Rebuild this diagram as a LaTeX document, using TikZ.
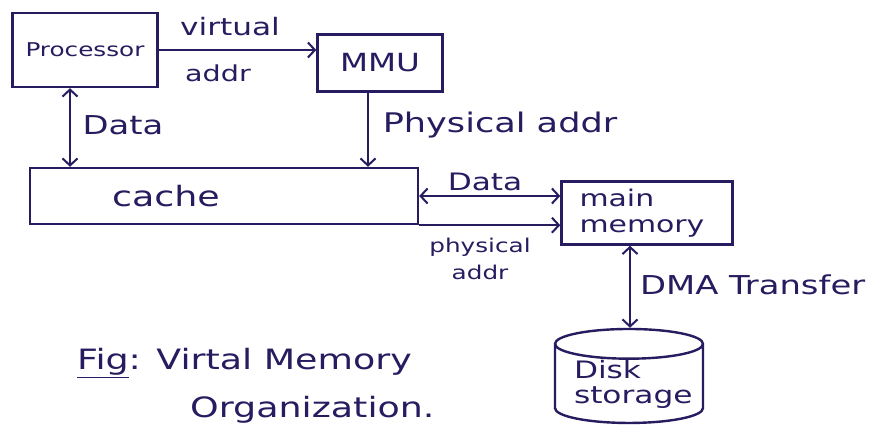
\documentclass[tikz,border=0pt]{standalone}
\usepackage{fontspec}
\setmainfont{DejaVu Sans}[FakeStretch=1.3]
\usetikzlibrary{arrows.meta,shapes.geometric}
\definecolor{ink}{RGB}{38,28,95}
\tikzset{
  unit/.style={draw=ink, line width=2.4pt, inner sep=0pt},
  wire/.style={draw=ink, line width=2pt},
  lbl/.style={text=ink, inner sep=0pt, font=\fontsize{24}{28}\selectfont}
}
\begin{document}
\begin{tikzpicture}[x=1pt, y=-1pt, >={Straight Barb[length=7pt,width=15pt]}]
  \useasboundingbox[fill=white] (0,0) rectangle (885,433);

  % units
  \node[unit, minimum width=145pt, minimum height=74pt, text=ink,
        font=\fontsize{19}{22}\selectfont] (proc) at (85,50) {Processor};
  \node[unit, minimum width=125pt, minimum height=57pt, text=ink,
        font=\fontsize{25}{28}\selectfont] (mmu) at (380,63) {MMU};
  \node[unit, minimum width=388pt, minimum height=56pt, text=ink,
        text width=380pt, align=left,
        font=\fontsize{28}{30}\selectfont] (cache) at (224,196) {\hspace{78pt}cache};
  \node[unit, minimum width=171pt, minimum height=63pt, text=ink,
        text width=135pt, align=left,
        font=\fontsize{23}{26}\selectfont] (mem) at (647,213) {main\\memory};
  \node[unit, cylinder, shape border rotate=90, aspect=0.27,
        minimum width=148pt, minimum height=92pt, text=ink,
        text width=110pt, align=left,
        font=\fontsize{24}{25}\selectfont] (disk) at (629,384) {Disk\\storage};

  % connectors
  \coordinate (vin) at ([yshift=13pt]mmu.west);
  \draw[wire, ->] (vin -| proc.east) -- (vin);
  \draw[wire, <->] ([xshift=-15pt]proc.south) -- ([xshift=-15pt]proc.south |- cache.north);
  \draw[wire, ->] ([xshift=-12pt]mmu.south) -- ([xshift=-12pt]mmu.south |- cache.north);
  \draw[wire, <->] (cache.east) -- (cache.east -| mem.west);
  \draw[wire, ->] (cache.south east) -- (cache.south east -| mem.west);
  \draw[wire, <->] ([xshift=-17pt]mem.south) -- ([xshift=-17pt]mem.south |- disk.north);

  % labels
  \node[lbl] (virt) at (230,27) {virtual};
  \node[lbl, font=\fontsize{22}{26}\selectfont] (vaddr) at (218,73) {addr};
  \node[lbl, font=\fontsize{26}{28}\selectfont] (ldata) at (123,125) {Data};
  \node[lbl, font=\fontsize{27}{30}\selectfont] (paddr) at (500,125) {Physical addr};
  \node[lbl] (rdata) at (485,182) {Data};
  \node[lbl, align=center, font=\fontsize{19}{27}\selectfont] (phys) at (480,259) {physical\\addr};
  \node[lbl, anchor=west, font=\fontsize{26}{28}\selectfont] (dma) at (640,285) {DMA Transfer};

  % caption
  \node[lbl, anchor=west, font=\fontsize{28}{30}\selectfont] (cap1) at (77,363)
    {\underline{Fig}: Virtal Memory};
  \node[lbl, anchor=west, font=\fontsize{28}{30}\selectfont] (cap2) at (190,410)
    {Organization.};
\end{tikzpicture}
\end{document}
